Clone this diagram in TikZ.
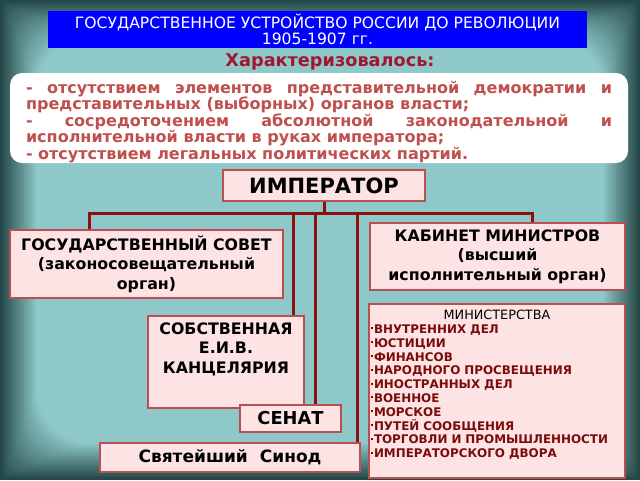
\documentclass[tikz,border=0pt]{standalone}
\usepackage{fontspec}
\setmainfont{DejaVu Sans}
\definecolor{bgmain}{HTML}{8EC8C8}
\definecolor{bgdark}{HTML}{234646}
\definecolor{titleblue}{HTML}{0000FF}
\definecolor{headred}{HTML}{A01830}
\definecolor{feattext}{HTML}{C0504D}
\definecolor{boxfill}{HTML}{FDE3E3}
\definecolor{boxborder}{HTML}{B85050}
\definecolor{wirered}{HTML}{8B1010}
\definecolor{listred}{HTML}{7A0C0C}
\newcommand\mybul{\raisebox{4.2pt}{\rule{2pt}{2pt}}\hspace{1pt}}
\tikzset{
  pinkbox/.style={draw=boxborder, line width=1.2pt, fill=boxfill, inner sep=0pt,
    align=center, text=black, font=\fontsize{15.8}{19.5}\selectfont\bfseries},
  wire/.style={draw=wirered, line width=3pt},
}
\begin{document}
\begin{tikzpicture}[x=1pt,y=-1pt]
\useasboundingbox (0,0) rectangle (640,480);
% background with vignette
\fill[bgdark] (0,0) rectangle (640,480);
\foreach \i in {1,...,26}{
  \pgfmathtruncatemacro\p{\i*100/26}
  \pgfmathsetmacro\d{\i*1.4}
  \fill[bgmain!\p!bgdark, rounded corners=\d*1.5pt] (\d,\d) rectangle (640-\d,480-\d);
}
% title
\node[fill=titleblue, minimum width=539pt, minimum height=37pt, inner sep=0pt,
  text=white, align=center, font=\fontsize{15.6}{16}\selectfont] (title) at (317.5,29.5)
  {ГОСУДАРСТВЕННОЕ УСТРОЙСТВО РОССИИ ДО РЕВОЛЮЦИИ\\1905-1907 гг.};
\node[text=headred, font=\fontsize{17.7}{19}\selectfont\bfseries] (head) at (330,62) {Характеризовалось:};
% features
\node[fill=white, rounded corners=12pt, minimum width=618pt, minimum height=90pt,
  inner sep=0pt, text width=586pt, align=justify, text=feattext,
  font=\fontsize{16}{16.5}\selectfont\bfseries] (feat) at (319,118)
  {\rule{0pt}{20pt}- отсутствием элементов представительной демократии и\linebreak
   представительных (выборных) органов власти;\par
   - сосредоточением абсолютной законодательной и\linebreak
   исполнительной власти в руках императора;\par
   - отсутствием легальных политических партий.};
% boxes
\node[pinkbox, minimum width=202pt, minimum height=31pt, font=\fontsize{21}{22}\selectfont\bfseries] (imp) at (324,185.5) {ИМПЕРАТОР};
\node[pinkbox, minimum width=273pt, minimum height=68pt] (gs) at (146.5,264)
  {ГОСУДАРСТВЕННЫЙ СОВЕТ\\(законосовещательный\\орган)};
\node[pinkbox, minimum width=255pt, minimum height=67pt] (kab) at (497.5,256.5)
  {КАБИНЕТ МИНИСТРОВ\\(высший\\исполнительный орган)};
\node[pinkbox, minimum width=156pt, minimum height=92pt] (sob) at (226,362)
  {СОБСТВЕННАЯ\\Е.И.В.\\КАНЦЕЛЯРИЯ\rule[-28pt]{0pt}{0pt}};
\node[pinkbox, minimum width=101pt, minimum height=27pt, font=\fontsize{17.8}{19}\selectfont\bfseries] (sen) at (290.5,418.5) {СЕНАТ};
\node[pinkbox, minimum width=260pt, minimum height=29pt, font=\fontsize{17}{18}\selectfont\bfseries] (syn) at (230,457.5) {Святейший\hspace{12pt}Синод};
\node[pinkbox, minimum width=256pt, minimum height=174pt, inner xsep=2pt,
  text width=252pt, align=left, text=listred, font=\fontsize{11.9}{13.8}\selectfont\bfseries] (min) at (497,391)
  {\makebox[\linewidth][c]{\color{black}\fontsize{12.8}{13.8}\selectfont\mdseries МИНИСТЕРСТВА}\\
   \mybul ВНУТРЕННИХ ДЕЛ\\
   \mybul ЮСТИЦИИ\\
   \mybul ФИНАНСОВ\\
   \mybul НАРОДНОГО ПРОСВЕЩЕНИЯ\\
   \mybul ИНОСТРАННЫХ ДЕЛ\\
   \mybul ВОЕННОЕ\\
   \mybul МОРСКОЕ\\
   \mybul ПУТЕЙ СООБЩЕНИЯ\\
   \mybul ТОРГОВЛИ И ПРОМЫШЛЕННОСТИ\\
   \mybul ИМПЕРАТОРСКОГО ДВОРА\rule[-14pt]{0pt}{0pt}};
% connectors
\coordinate (busL) at (89,213);
\coordinate (busR) at (532,213);
\coordinate (b1) at (293,213);
\coordinate (b2) at (315,213);
\coordinate (b3) at (357,213);
\draw[wire] (imp.south) -- (imp.south |- busL);
\draw[wire] ([xshift=-1.5pt]busL) -- ([xshift=1.5pt]busR);
\draw[wire] (busL) -- (busL |- gs.north);
\draw[wire] (busR) -- (busR |- kab.north);
\draw[wire] (b1) -- (b1 |- sob.north);
\draw[wire] (b2) -- (b2 |- sen.north);
\draw[wire] (b3) -- (b3 |- syn.north);
\end{tikzpicture}
\end{document}
